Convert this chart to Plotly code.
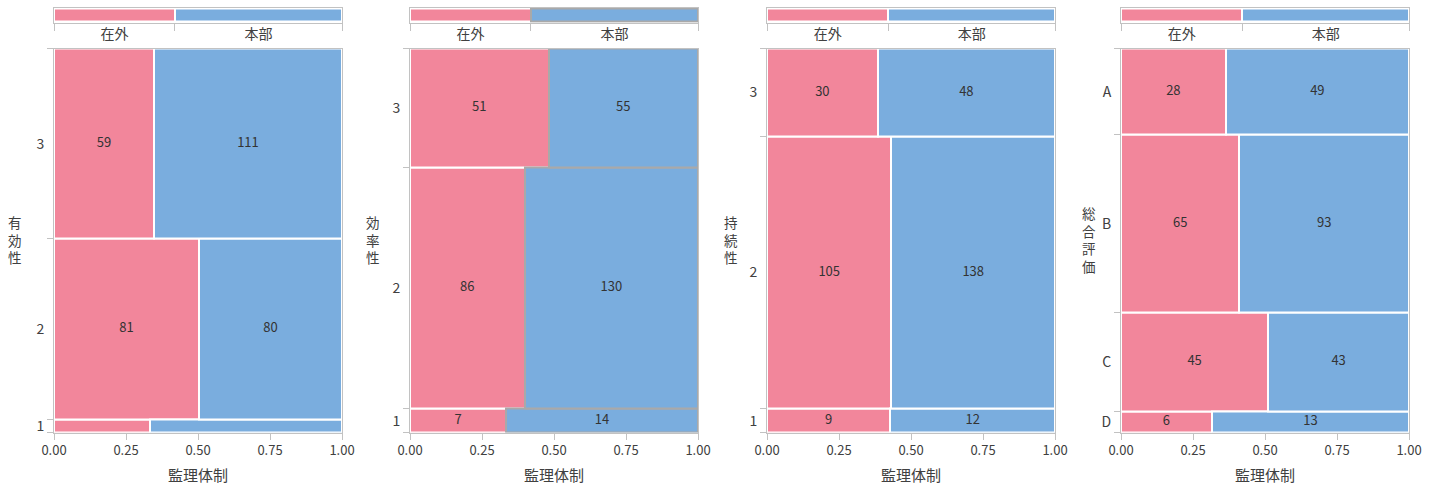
import plotly.graph_objects as go

# ---- data -------------------------------------------------------------
GROUPS = ["在外", "本部"]
X_TITLE = "監理体制"
X_TICKS = [0.0, 0.25, 0.5, 0.75, 1.0]

panel_titles = ["有効性", "効率性", "持続性", "総合評価"]

# row levels are listed bottom -> top
levels_yuko = ["1", "2", "3"]
zaigai_yuko = [4, 81, 59]
honbu_yuko = [8, 80, 111]

levels_koritsu = ["1", "2", "3"]
zaigai_koritsu = [7, 86, 51]
honbu_koritsu = [14, 130, 55]

levels_jizoku = ["1", "2", "3"]
zaigai_jizoku = [9, 105, 30]
honbu_jizoku = [12, 138, 48]

levels_sogo = ["D", "C", "B", "A"]
zaigai_sogo = [6, 45, 65, 28]
honbu_sogo = [13, 43, 93, 49]

panels = [
    (panel_titles[0], levels_yuko, zaigai_yuko, honbu_yuko),
    (panel_titles[1], levels_koritsu, zaigai_koritsu, honbu_koritsu),
    (panel_titles[2], levels_jizoku, zaigai_jizoku, honbu_jizoku),
    (panel_titles[3], levels_sogo, zaigai_sogo, honbu_sogo),
]
highlighted_panel = 1  # 本部 cells of this panel are outlined

# ---- style ------------------------------------------------------------
W, H = 1431, 485
PINK = "rgb(242,134,155)"
BLUE = "rgb(122,173,222)"
LINE = "#c2c2c2"
SEL = "#a9a9a9"
TXT = "#404040"
FONT = "Noto Sans CJK JP"
MIN_LABEL_SHARE = 0.04  # rows thinner than this get no cell labels

panel_left = [54, 410, 767, 1121]
panel_w = 288
main_top, main_bottom = 48.5, 432.5
strip_top, strip_bottom = 7.5, 22.7
title_x = [15, 373, 731, 1089]
title_y = 239


def fx(px):
    return px / W


def fy(px):
    return 1 - px / H


def name(prefix, n):
    return prefix if n == 1 else f"{prefix}{n}"


def key(prefix, n):
    return f"{prefix}axis" if n == 1 else f"{prefix}axis{n}"


fig = go.Figure()
layout_axes = {}
annotations = []

for i, (title, levels, zaigai, honbu) in enumerate(panels):
    mx, sx, lx = 3 * i + 1, 3 * i + 2, 3 * i + 3
    my, ly, sy = 3 * i + 1, 3 * i + 2, 3 * i + 3

    row_tot = [a + b for a, b in zip(zaigai, honbu)]
    N = sum(row_tot)
    bounds = [0]
    for t in row_tot:
        bounds.append(bounds[-1] + t)
    centers = [(bounds[k] + bounds[k + 1]) / 2 for k in range(len(row_tot))]
    frac_z = [a / t for a, t in zip(zaigai, row_tot)]
    frac_h = [b / t for b, t in zip(honbu, row_tot)]

    sel_line = SEL if i == highlighted_panel else "white"

    # mosaic cells
    fig.add_trace(go.Bar(
        orientation="h", y=centers, x=frac_z, base=[0] * len(frac_z), width=row_tot,
        marker=dict(color=PINK, line=dict(color="white", width=2)),
        xaxis=name("x", mx), yaxis=name("y", my), showlegend=False,
        hoverinfo="skip", name=GROUPS[0],
    ))
    fig.add_trace(go.Bar(
        orientation="h", y=centers, x=frac_h, base=frac_z, width=row_tot,
        marker=dict(color=BLUE, line=dict(color=sel_line, width=2)),
        xaxis=name("x", mx), yaxis=name("y", my), showlegend=False,
        hoverinfo="skip", name=GROUPS[1],
    ))

    # cell counts
    tx, ty, tt = [], [], []
    for k in range(len(row_tot)):
        show = row_tot[k] / N >= MIN_LABEL_SHARE
        tx += [frac_z[k] / 2, frac_z[k] + frac_h[k] / 2]
        ty += [centers[k], centers[k]]
        tt += [str(zaigai[k]) if show else "", str(honbu[k]) if show else ""]
    fig.add_trace(go.Scatter(
        x=tx, y=ty, text=tt, mode="text",
        textfont=dict(family=FONT, size=13, color="#333333"),
        xaxis=name("x", mx), yaxis=name("y", my), showlegend=False,
        hoverinfo="skip", cliponaxis=False,
    ))

    # overall split strip
    tz, th = sum(zaigai), sum(honbu)
    sz, sh = tz / N, th / N
    fig.add_trace(go.Bar(
        orientation="h", y=[0.5], x=[sz], base=[0], width=[0.86],
        marker=dict(color=PINK, line=dict(color="white", width=2)),
        xaxis=name("x", sx), yaxis=name("y", sy), showlegend=False, hoverinfo="skip",
    ))
    fig.add_trace(go.Bar(
        orientation="h", y=[0.5], x=[sh], base=[sz], width=[0.86],
        marker=dict(color=BLUE, line=dict(color=sel_line, width=2)),
        xaxis=name("x", sx), yaxis=name("y", sy), showlegend=False, hoverinfo="skip",
    ))

    # placeholders so the label-only axes are drawn
    fig.add_trace(go.Scatter(x=[None], y=[None], mode="markers", xaxis=name("x", mx),
                             yaxis=name("y", ly), showlegend=False, hoverinfo="skip"))
    fig.add_trace(go.Scatter(x=[None], y=[None], mode="markers", xaxis=name("x", lx),
                             yaxis=name("y", sy), showlegend=False, hoverinfo="skip"))

    L, R = fx(panel_left[i]), fx(panel_left[i] + panel_w)

    layout_axes[key("x", mx)] = dict(
        domain=[L, R], anchor=name("y", my), type="linear", range=[0, 1],
        tickvals=X_TICKS, ticktext=[f"{v:.2f}" for v in X_TICKS],
        ticks="outside", ticklen=6, tickcolor=LINE, showline=True, linecolor=LINE,
        linewidth=1, mirror=True, showgrid=False, zeroline=False, automargin=False,
        tickfont=dict(family=FONT, size=13, color=TXT),
        title=dict(text=X_TITLE, font=dict(family=FONT, size=15, color=TXT), standoff=15),
    )
    layout_axes[key("y", my)] = dict(
        domain=[fy(main_bottom), fy(main_top)], anchor=name("x", mx), type="linear",
        range=[0, N], tickvals=bounds, ticks="outside", ticklen=6, tickcolor=LINE,
        showticklabels=False, showline=True, linecolor=LINE, linewidth=1, mirror=True,
        showgrid=False, zeroline=False, automargin=False,
    )
    layout_axes[key("y", ly)] = dict(
        overlaying=name("y", my), anchor=name("x", mx), side="left", type="linear",
        range=[0, N], tickvals=centers, ticktext=levels, ticks="outside", ticklen=6,
        tickcolor="rgba(0,0,0,0)", showline=False, showgrid=False, zeroline=False,
        automargin=False, tickfont=dict(family=FONT, size=14, color=TXT),
    )
    layout_axes[key("x", sx)] = dict(
        domain=[L, R], anchor=name("y", sy), type="linear", range=[0, 1],
        tickvals=[0, sz, 1], ticks="outside", ticklen=7, tickcolor=LINE,
        showticklabels=False, showline=True, linecolor=LINE, linewidth=1, mirror=True,
        showgrid=False, zeroline=False, automargin=False,
    )
    layout_axes[key("y", sy)] = dict(
        domain=[fy(strip_bottom), fy(strip_top)], anchor=name("x", sx), type="linear",
        range=[0, 1], showticklabels=False, ticks="", showline=True, linecolor=LINE,
        linewidth=1, mirror=True, showgrid=False, zeroline=False, automargin=False,
    )
    layout_axes[key("x", lx)] = dict(
        overlaying=name("x", sx), anchor=name("y", sy), side="bottom", type="linear",
        range=[0, 1], tickvals=[sz / 2, sz + sh / 2], ticktext=GROUPS,
        ticks="", ticklabelstandoff=1,
        showline=False, showgrid=False, zeroline=False, automargin=False,
        tickfont=dict(family=FONT, size=14, color=TXT),
    )

    # stacked y-axis title, one character per line
    annotations.append(dict(
        text="<br>".join(title), x=fx(title_x[i]), y=fy(title_y),
        xref="paper", yref="paper", xanchor="center", yanchor="middle",
        showarrow=False, font=dict(family=FONT, size=13.5, color=TXT),
    ))

fig.update_layout(
    width=W, height=H,
    margin=dict(l=0, r=0, t=0, b=0, pad=0, autoexpand=False),
    paper_bgcolor="white", plot_bgcolor="white",
    barmode="overlay", bargap=0, showlegend=False,
    font=dict(family=FONT, color=TXT),
    annotations=annotations,
    **layout_axes,
)

fig.write_html("out.html")
